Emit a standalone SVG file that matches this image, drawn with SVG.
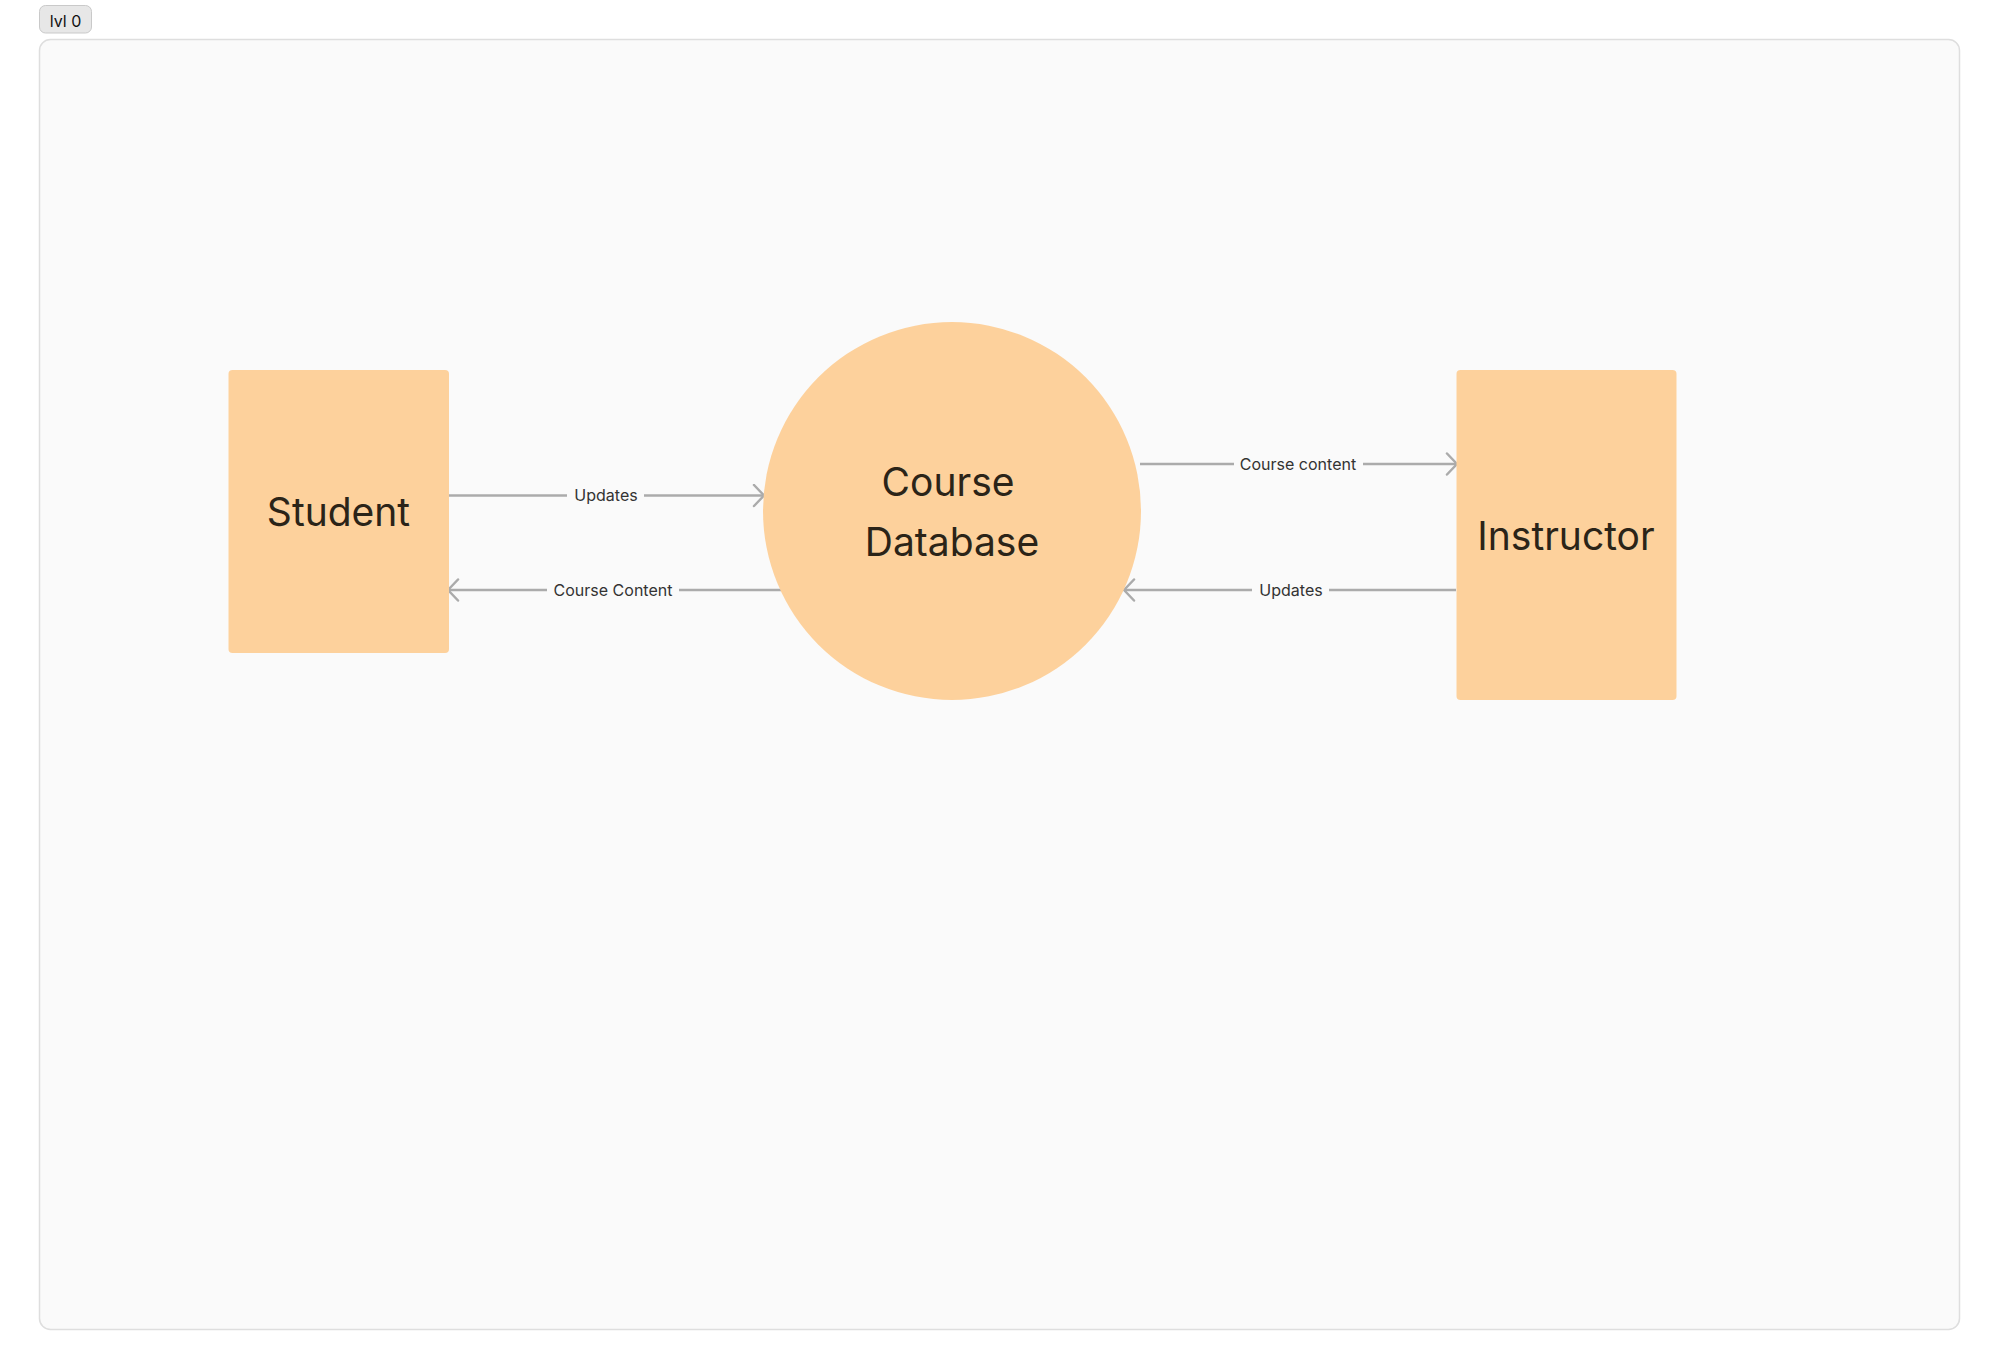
<svg xmlns="http://www.w3.org/2000/svg" width="1999" height="1370" viewBox="0 0 1999 1370">
<style>
.node{fill:#fdd19c;}
.ntext{font-family:Inter,"Liberation Sans",sans-serif;font-size:39px;fill:#2b2418;text-anchor:middle;}
.edge{stroke:#ababab;stroke-width:2.5;fill:none;}
.elabel{font-family:Inter,"Liberation Sans",sans-serif;font-size:16px;fill:#333333;text-anchor:middle;}
</style>
<defs>
<marker id="arr" markerUnits="userSpaceOnUse" markerWidth="24" markerHeight="24" refX="12" refY="12" orient="auto" viewBox="0 0 24 24">
<path d="M2,1.5 L12,12 L2,22.5" fill="none" stroke="#ababab" stroke-width="2.5" stroke-linecap="round" stroke-linejoin="round"/>
</marker>
</defs>
<rect x="0" y="0" width="1999" height="1370" fill="#ffffff"/>
<g id="frame">
<rect x="39.5" y="39.5" width="1920" height="1290" rx="11" fill="#fafafa" stroke="#dedede" stroke-width="1.5"/>
</g>
<g id="badge">
<rect x="39.5" y="5.5" width="52" height="27.5" rx="6" fill="#e7e7e7" stroke="#c9c9c9" stroke-width="1"/>
<text x="65.5" y="26.5" font-family="Inter,'Liberation Sans',sans-serif" font-size="16" fill="#111111" text-anchor="middle">lvl 0</text>
</g>
<g id="connectors">
<g id="e1">
<line class="edge" x1="449" y1="495.5" x2="567" y2="495.5"/>
<line class="edge" x1="644" y1="495.5" x2="764" y2="495.5" marker-end="url(#arr)"/>
<text class="elabel" x="606" y="501">Updates</text>
</g>
<g id="e2">
<line class="edge" x1="781" y1="590" x2="679" y2="590"/>
<line class="edge" x1="547" y1="590" x2="448" y2="590" marker-end="url(#arr)"/>
<text class="elabel" x="613" y="595.5">Course Content</text>
</g>
<g id="e3">
<line class="edge" x1="1140" y1="464" x2="1234" y2="464"/>
<line class="edge" x1="1363" y1="464" x2="1457" y2="464" marker-end="url(#arr)"/>
<text class="elabel" x="1298" y="469.5">Course content</text>
</g>
<g id="e4">
<line class="edge" x1="1456" y1="590" x2="1329" y2="590"/>
<line class="edge" x1="1252" y1="590" x2="1124" y2="590" marker-end="url(#arr)"/>
<text class="elabel" x="1291" y="595.5">Updates</text>
</g>
</g>
<g id="student">
<rect class="node" x="228.5" y="370" width="220.5" height="283" rx="4"/>
<text class="ntext" x="338.5" y="526">Student</text>
</g>
<g id="course-database">
<circle class="node" cx="952" cy="511" r="189"/>
<text class="ntext" x="948" y="496">Course</text>
<text class="ntext" x="952" y="556">Database</text>
</g>
<g id="instructor">
<rect class="node" x="1456.5" y="370" width="220" height="330" rx="4"/>
<text class="ntext" x="1566" y="550">Instructor</text>
</g>
</svg>
